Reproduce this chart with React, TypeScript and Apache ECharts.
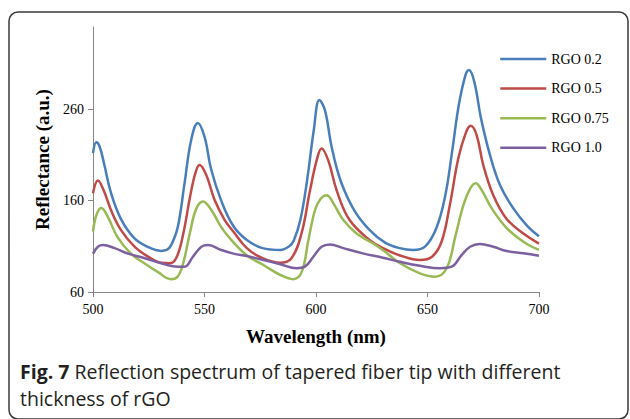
import React, { useEffect, useRef } from 'react';
import * as echarts from 'echarts';

const seriesNames = ['RGO 0.2', 'RGO 0.5', 'RGO 0.75', 'RGO 1.0'];
const seriesColors = ['#4A7EBB', '#BE4B48', '#98B954', '#7D60A0'];
const xTicks = [500, 550, 600, 650, 700];
const yTicks = [60, 160, 260];

const rgo02: [number, number][] = [
  [500, 212], [501.5, 224], [503, 219], [505, 200], [508, 169], [512.5, 140], [518.5, 119],
  [524.5, 109.5], [530.5, 105], [533, 106], [535, 111], [538, 131], [541, 178], [544, 226],
  [547, 245], [550, 230], [553, 194], [557.5, 160], [563, 132], [569, 117], [576, 108],
  [584, 106], [588, 110], [590, 116], [593, 139], [596, 182], [599, 237], [601.5, 270],
  [604, 259], [607, 219], [611, 182], [617, 150], [624, 128], [631, 114], [637.5, 108],
  [643.5, 106], [649, 110], [654, 130], [658, 166], [661, 213], [664, 264], [667, 297],
  [668.6, 303], [671, 290], [674, 250], [678, 210], [682.5, 177], [688.5, 151.5],
  [694.5, 133], [700, 121],
];

const rgo05: [number, number][] = [
  [500, 168], [502.2, 182], [505, 170], [508, 150], [512.5, 128], [518.5, 110], [524.5, 99],
  [530.5, 92], [534.5, 91.5], [537.5, 98], [540.5, 124], [543.5, 164], [546, 191],
  [547.8, 199], [550.8, 188], [554.5, 161], [559, 139], [563, 126], [569, 108], [576, 97],
  [584, 92], [589, 97], [593.5, 124], [597.3, 171], [600.3, 204], [602.5, 217],
  [605.5, 204], [609.3, 171], [615, 139], [624, 117], [631, 107], [637.7, 100],
  [646.6, 95], [652, 98.6], [656.3, 115], [660, 155], [663.8, 206], [667.3, 235],
  [669.4, 242], [672, 232], [675, 199], [679.5, 166], [685.5, 140], [693, 124], [700, 113],
];

const rgo075: [number, number][] = [
  [500, 126], [501.5, 144], [503.7, 152], [506.7, 142], [511, 120], [517, 102], [523, 91.4],
  [529, 82], [535, 74], [538, 77], [540.4, 91], [543.4, 124], [546.3, 151], [549.3, 159],
  [553, 150], [557.5, 131], [562, 117], [569, 100], [576.4, 89.5], [584, 78.6],
  [589.8, 74], [593.6, 82], [596.6, 117], [599.6, 150], [602.1, 162], [604.8, 166],
  [607.8, 157], [612.2, 139], [618.2, 124], [625.7, 113], [631, 104], [637.7, 91.4],
  [646.6, 80.4], [653.4, 76.7], [658.6, 86], [662.3, 119], [666.1, 155], [669.1, 173],
  [671.6, 179], [674.3, 171.5], [678.8, 151.5], [685.5, 130], [693, 115], [700, 106],
];

const rgo10: [number, number][] = [
  [500, 102], [502.2, 109.5], [504.5, 111.4], [509.7, 108], [515.7, 102], [523.2, 97],
  [530.6, 91.4], [536.6, 88], [541, 87.7], [544.8, 98.6], [548.6, 109.5], [551.6, 111.4],
  [557.5, 106], [563, 102], [569, 99.3], [576.4, 95], [584, 90.3], [591.3, 86], [595, 87.7],
  [598.8, 98.6], [602.5, 109.5], [606.3, 112], [612.2, 108], [621, 102.3], [630, 97.5],
  [637.7, 93], [646.6, 88.7], [655.6, 86], [660.8, 87.7], [665.3, 100.4], [669.1, 109.5],
  [673.5, 112.5], [679.5, 109.5], [685.5, 104.8], [693, 102.3], [700, 99.7],
];

const seriesData = [rgo02, rgo05, rgo075, rgo10];

const captionBold = 'Fig. 7';
const captionLine1 = ' Reflection spectrum of tapered fiber tip with different';
const captionLine2 = 'thickness of rGO';

export default function App() {
  const ref = useRef<HTMLDivElement>(null);
  useEffect(() => {
    document.body.style.margin = '0';
    const chart = echarts.init(ref.current!, null, { renderer: 'svg' });
    const serif = 'Liberation Serif, Times New Roman, serif';
    const sans = 'Open Sans';
    const axisColor = '#878787';
    const capColor = '#231f20';
    const capSize = 19.5;
    chart.setOption({
      animation: false,
      backgroundColor: '#ffffff',
      grid: { left: 93, right: 91, top: 27, bottom: 127 },
      legend: {
        orient: 'vertical',
        left: 499,
        top: 52,
        padding: 0,
        itemWidth: 46,
        itemHeight: 14,
        itemGap: 15.6,
        data: seriesNames,
        itemStyle: { opacity: 0 },
        lineStyle: { width: 2.5 },
        textStyle: { fontFamily: serif, fontSize: 14, color: '#000' },
      },
      xAxis: {
        type: 'value',
        min: 500,
        max: 700,
        interval: 50,
        axisLine: { show: true, onZero: false, lineStyle: { color: axisColor, width: 1 } },
        axisTick: { show: true, length: 5, customValues: xTicks, lineStyle: { color: axisColor } },
        axisLabel: { customValues: xTicks, color: '#000', fontFamily: serif, fontSize: 14, margin: 10 },
        splitLine: { show: false },
        name: 'Wavelength (nm)',
        nameLocation: 'middle',
        nameGap: 35,
        nameTextStyle: { fontFamily: serif, fontWeight: 'bold', fontSize: 19, color: '#000' },
      },
      yAxis: {
        type: 'value',
        min: 60,
        max: 350,
        interval: 100,
        axisLine: { show: true, onZero: false, lineStyle: { color: axisColor, width: 1 } },
        axisTick: { show: true, length: 5, customValues: yTicks, lineStyle: { color: axisColor } },
        axisLabel: { customValues: yTicks, color: '#000', fontFamily: serif, fontSize: 14, margin: 9 },
        splitLine: { show: false },
        name: 'Reflectance (a.u.)',
        nameLocation: 'middle',
        nameGap: 41,
        nameTextStyle: { fontFamily: serif, fontWeight: 'bold', fontSize: 19, color: '#000' },
      },
      series: seriesNames.map((name, i) => ({
        name,
        type: 'line',
        data: seriesData[i],
        smooth: 0.4,
        symbol: 'none',
        color: seriesColors[i],
        lineStyle: { width: 2.5, color: seriesColors[i] },
      })),
      graphic: [
        {
          type: 'rect',
          silent: true,
          shape: { x: 9, y: 12, width: 619, height: 407, r: 9 },
          style: { fill: 'none', stroke: '#3a3a3a', lineWidth: 1.5 },
        },
        {
          type: 'text',
          x: 20,
          y: 371.5,
          style: {
            text: `{b|${captionBold}}{n|${captionLine1}}`,
            verticalAlign: 'middle',
            rich: {
              b: { fontFamily: sans, fontWeight: 'bold', fontSize: capSize, fill: capColor },
              n: { fontFamily: sans, fontSize: capSize, fill: capColor },
            },
          },
        },
        {
          type: 'text',
          x: 20,
          y: 398.5,
          style: {
            text: captionLine2,
            verticalAlign: 'middle',
            fontFamily: sans,
            fontSize: capSize,
            fill: capColor,
          },
        },
      ],
    });
    return () => chart.dispose();
  }, []);
  return <div ref={ref} style={{ width: 630, height: 419 }} />;
}
